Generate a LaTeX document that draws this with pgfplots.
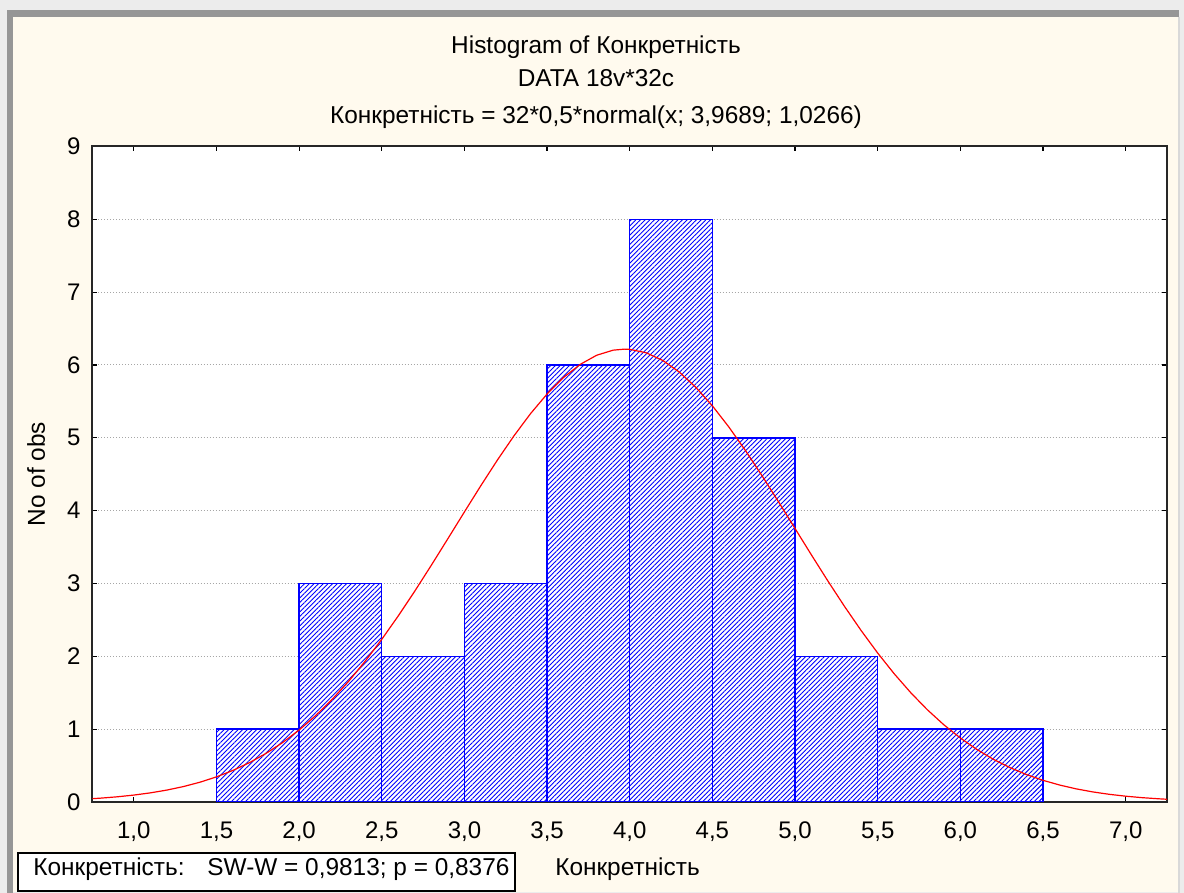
\documentclass[border=0pt]{standalone}
\usepackage{fontspec}
\setmainfont{Liberation Sans}
\usepackage{pgfplots}
\usepackage{pgfplotstable}
\pgfplotsset{compat=1.18}
\usetikzlibrary{patterns.meta}
\definecolor{cream}{RGB}{255,250,238}
\definecolor{framegray}{RGB}{150,150,150}
\definecolor{outergray}{RGB}{236,236,236}

\pgfplotstableread{
x y
1.5 1
2.0 3
2.5 2
3.0 3
3.5 6
4.0 8
4.5 5
5.0 2
5.5 1
6.0 1
6.5 1
}\histdata

\begin{document}
\begin{tikzpicture}
% background frame, pixel coordinates of the reference
\begin{scope}[x=0.5pt,y=-0.5pt,shift={(-92.5,-802)}]
  \path[use as bounding box] (0,0) rectangle (1184,893);
  \fill[outergray] (0,0) rectangle (1184,893);
  \fill[framegray] (7,10) rectangle (1179,17);
  \fill[framegray] (7,10) rectangle (13,893);
  \fill[gray!30] (1178,17) rectangle (1180,893);
  \fill[cream] (13,17) rectangle (1178,892);
\end{scope}

\begin{axis}[
  at={(0pt,0pt)}, anchor=south west,
  scale only axis, width=537.25pt, height=327.75pt,
  xmin=0.75, xmax=7.25, ymin=0, ymax=9,
  xtick={1,1.5,...,7}, ytick={0,1,...,9},
  tick align=inside, tick pos=both,
  major tick length=2.5pt,
  every tick/.style={black, line width=0.6pt},
  axis line style={draw=black!85, line width=1pt},
  ymajorgrids,
  grid style={gray!70, line width=0.5pt, dash pattern=on 0.5pt off 1pt},
  /pgf/number format/assume math mode=true,
  tick label style={font=\fontsize{12}{14}\selectfont},
  xticklabel style={yshift=-6.5pt, /pgf/number format/fixed, /pgf/number format/fixed zerofill,
    /pgf/number format/precision=1, /pgf/number format/use comma},
  yticklabel style={xshift=-2.5pt},
  axis background/.style={fill=white},
]
\addplot[ybar interval, fill=white, draw=none, forget plot] table[x=x,y=y] {\histdata};
\addplot[ybar interval, draw=blue, line width=0.7pt,
  pattern={Lines[angle=45,distance=1.65pt,line width=0.45pt]}, pattern color=blue]
  table[x=x,y=y] {\histdata};
\addplot[red, line width=0.6pt] coordinates {
(0.75,0.0456) (0.8,0.0530) (0.9,0.0713) (1.0,0.0950) (1.1,0.1253) (1.2,0.1637)
(1.3,0.2118) (1.4,0.2716) (1.5,0.3449) (1.6,0.4339) (1.7,0.5407) (1.8,0.6675)
(1.9,0.8160) (2.0,0.9884) (2.1,1.1857) (2.2,1.4091) (2.3,1.6586) (2.4,1.9342)
(2.5,2.2340) (2.6,2.5559) (2.7,2.8967) (2.8,3.2518) (2.9,3.6159) (3.0,3.9830)
(3.1,4.3459) (3.2,4.6970) (3.3,5.0286) (3.4,5.3327) (3.5,5.6018) (3.6,5.8289)
(3.7,6.0080) (3.8,6.1341) (3.9,6.2037) (3.9689,6.2177) (4.0,6.2148) (4.1,6.1672)
(4.2,6.0621) (4.3,5.9026) (4.4,5.6930) (4.5,5.4390) (4.6,5.1471) (4.7,4.8250)
(4.8,4.4804) (4.9,4.1210) (5.0,3.7547) (5.1,3.3886) (5.2,3.0294) (5.3,2.6826)
(5.4,2.3531) (5.5,2.0446) (5.6,1.7598) (5.7,1.5003) (5.8,1.2670) (5.9,1.0600)
(6.0,0.8783) (6.1,0.7208) (6.2,0.5862) (6.3,0.4721) (6.4,0.3766) (6.5,0.2976)
(6.6,0.2330) (6.7,0.1806) (6.8,0.1387) (6.9,0.1056) (7.0,0.0796) (7.1,0.0594)
(7.2,0.0439) (7.25,0.0376)};
\end{axis}

\begin{scope}[x=0.5pt,y=-0.5pt,shift={(-92.5,-802)}]
  \node[anchor=base, inner sep=0pt, font=\fontsize{12.2}{14}\selectfont] at (596,54) {Histogram of Конкретність};
  \node[anchor=base, inner sep=0pt, font=\fontsize{12.2}{14}\selectfont] at (596,87) {DATA 18v*32c};
  \node[anchor=base, inner sep=0pt, font=\fontsize{12.2}{14}\selectfont] at (596,124) {Конкретність = 32*0,5*normal(x; 3,9689; 1,0266)};
  \node[anchor=base, inner sep=0pt, rotate=90, font=\fontsize{12.2}{14}\selectfont] at (45,474) {No of obs};
  \node[anchor=base, inner sep=0pt, font=\fontsize{12.2}{14}\selectfont] at (627.5,876) {Конкретність};
  \draw[black, line width=0.6pt, fill=white] (18,853) rectangle (515,891);
  \node[anchor=base west, inner sep=0pt, font=\fontsize{12.2}{14}\selectfont] at (33,876) {Конкретність:};
  \node[anchor=base west, inner sep=0pt, font=\fontsize{12.2}{14}\selectfont] at (207,876) {SW-W = 0,9813; p = 0,8376};
\end{scope}
\end{tikzpicture}
\end{document}
